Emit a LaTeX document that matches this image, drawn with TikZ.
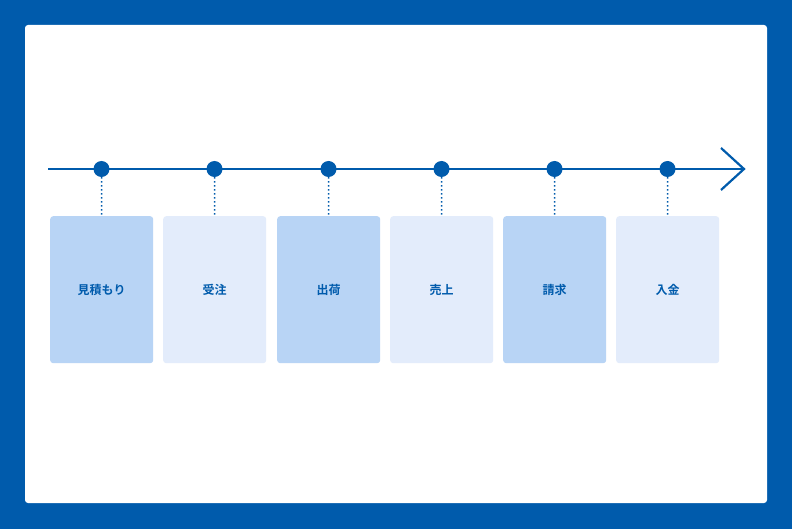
\documentclass[tikz,border=0pt]{standalone}
\usepackage{fontspec}
\newfontfamily\cjk{Noto Sans CJK JP}[BoldFont={* Bold}]
\definecolor{navy}{HTML}{005BAC}
\definecolor{boxA}{HTML}{B8D4F5}
\definecolor{boxB}{HTML}{E3ECFB}
\begin{document}
\begin{tikzpicture}[x=1pt,y=-1pt,
  stage/.style={rounded corners=3pt,minimum width=103pt,minimum height=147pt,inner sep=0pt,font=\cjk\bfseries\fontsize{12}{14}\selectfont,text=navy,anchor=north west},
  dot/.style={circle,fill=navy,minimum size=16pt,inner sep=0pt}]
\fill[navy] (0,0) rectangle (792,529);
\fill[white,rounded corners=3pt] (25,25) rectangle (767,503);
\coordinate (ls) at (48,169);
\coordinate (le) at (744,169);
\draw[navy,line width=2.2pt] (ls) -- (le);
\draw[navy,line width=2.2pt,line join=miter] (721,148) -- (le) -- (721,190);
\foreach \x/\t/\c [count=\i] in {50/見積もり/boxA,163/受注/boxB,277/出荷/boxA,390/売上/boxB,503/請求/boxA,616/入金/boxB}{
  \node[stage,fill=\c] (b\i) at (\x,216) {\t};
  \node[dot] (d\i) at (\x+51.5,169) {};
  \draw[navy,line width=1.5pt,dash pattern=on 1.5pt off 2.5pt] (d\i) -- (b\i.north);
}
\end{tikzpicture}
\end{document}
